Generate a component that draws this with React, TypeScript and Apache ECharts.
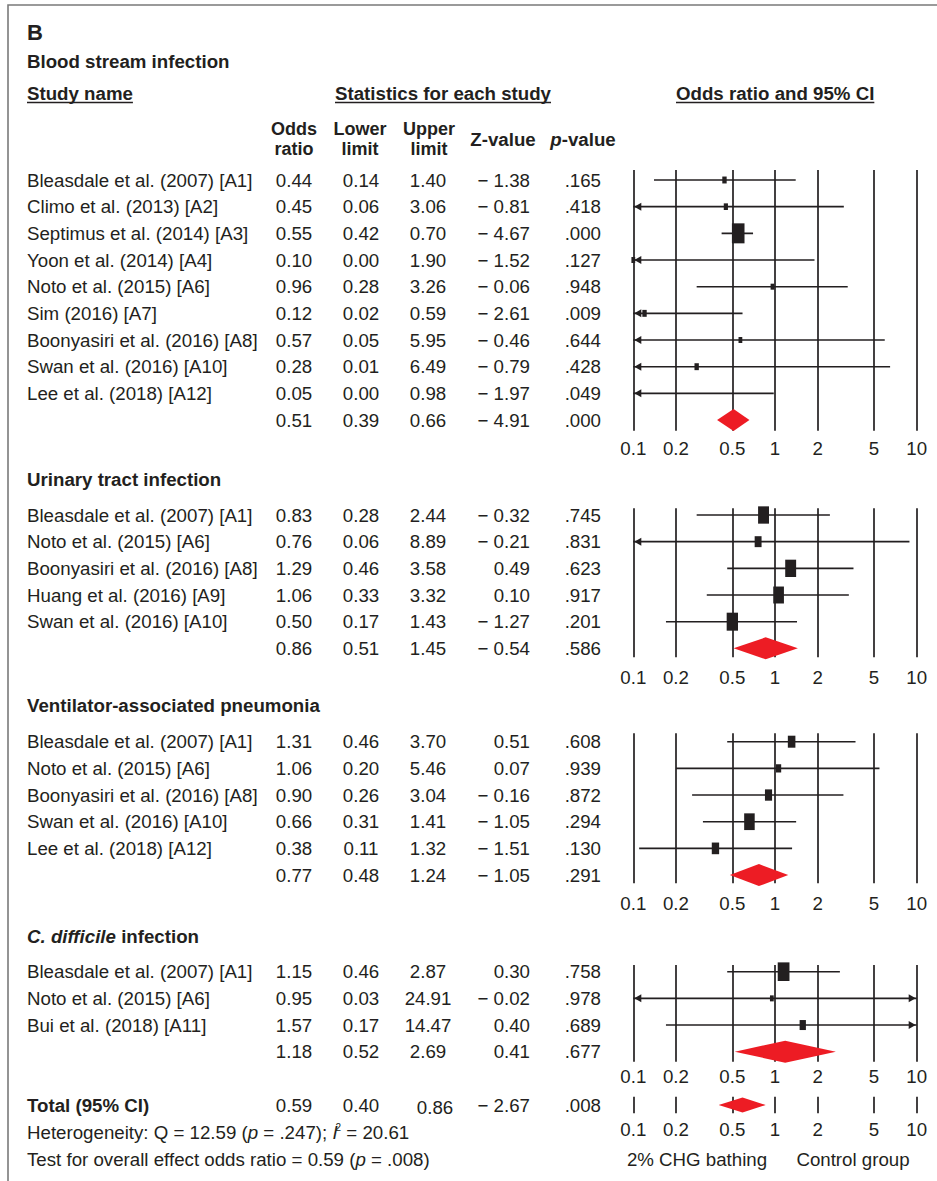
import React, { useEffect, useRef } from 'react';
import * as echarts from 'echarts';

// ---------- data ----------
const tickValues = [0.1, 0.2, 0.5, 1, 2, 5, 10];

const bsiStudies = [
  'Bleasdale et al. (2007) [A1]',
  'Climo et al. (2013) [A2]',
  'Septimus et al. (2014) [A3]',
  'Yoon et al. (2014) [A4]',
  'Noto et al. (2015) [A6]',
  'Sim (2016) [A7]',
  'Boonyasiri et al. (2016) [A8]',
  'Swan et al. (2016) [A10]',
  'Lee et al. (2018) [A12]',
];
const bsiOdds = [0.44, 0.45, 0.55, 0.1, 0.96, 0.12, 0.57, 0.28, 0.05];
const bsiLower = [0.14, 0.06, 0.42, 0.0, 0.28, 0.02, 0.05, 0.01, 0.0];
const bsiUpper = [1.4, 3.06, 0.7, 1.9, 3.26, 0.59, 5.95, 6.49, 0.98];
const bsiZ = [-1.38, -0.81, -4.67, -1.52, -0.06, -2.61, -0.46, -0.79, -1.97];
const bsiP = [0.165, 0.418, 0.0, 0.127, 0.948, 0.009, 0.644, 0.428, 0.049];
const bsiWeight = [12, 11, 100, 9, 9, 12, 9, 12, 9];
const bsiPooled = [0.51, 0.39, 0.66, -4.91, 0.0]; // OR, lower, upper, Z, p

const utiStudies = [
  'Bleasdale et al. (2007) [A1]',
  'Noto et al. (2015) [A6]',
  'Boonyasiri et al. (2016) [A8]',
  'Huang et al. (2016) [A9]',
  'Swan et al. (2016) [A10]',
];
const utiOdds = [0.83, 0.76, 1.29, 1.06, 0.5];
const utiLower = [0.28, 0.06, 0.46, 0.33, 0.17];
const utiUpper = [2.44, 8.89, 3.58, 3.32, 1.43];
const utiZ = [-0.32, -0.21, 0.49, 0.1, -1.27];
const utiP = [0.745, 0.831, 0.623, 0.917, 0.201];
const utiWeight = [75, 30, 75, 72, 81];
const utiPooled = [0.86, 0.51, 1.45, -0.54, 0.586];

const vapStudies = [
  'Bleasdale et al. (2007) [A1]',
  'Noto et al. (2015) [A6]',
  'Boonyasiri et al. (2016) [A8]',
  'Swan et al. (2016) [A10]',
  'Lee et al. (2018) [A12]',
];
const vapOdds = [1.31, 1.06, 0.9, 0.66, 0.38];
const vapLower = [0.46, 0.2, 0.26, 0.31, 0.11];
const vapUpper = [3.7, 5.46, 3.04, 1.41, 1.32];
const vapZ = [0.51, 0.07, -0.16, -1.05, -1.51];
const vapP = [0.608, 0.939, 0.872, 0.294, 0.13];
const vapWeight = [36, 17, 32, 70, 34];
const vapPooled = [0.77, 0.48, 1.24, -1.05, 0.291];

const cdiStudies = [
  'Bleasdale et al. (2007) [A1]',
  'Noto et al. (2015) [A6]',
  'Bui et al. (2018) [A11]',
];
const cdiOdds = [1.15, 0.95, 1.57];
const cdiLower = [0.46, 0.03, 0.17];
const cdiUpper = [2.87, 24.91, 14.47];
const cdiZ = [0.3, -0.02, 0.4];
const cdiP = [0.758, 0.978, 0.689];
const cdiWeight = [87, 8, 25];
const cdiPooled = [1.18, 0.52, 2.69, 0.41, 0.677];

const totalPooled = [0.59, 0.4, 0.86, -2.67, 0.008];
const heterogeneityQ = 12.59;
const heterogeneityP = 0.247;
const heterogeneityI2 = 20.61;

// ---------- styling / layout ----------
const FONT = '"Liberation Sans", Arial, Helvetica, sans-serif';
const INK = '#231f20';
const RED = '#ed1c24';
const FS = 18.7;
const ROW_STEP = 26.67;
const PLOT_LEFT = 633.3;
const PLOT_WIDTH = 283.4;

const COL_OR = 294;
const COL_LO = 361;
const COL_HI = 428;
const COL_Z = 530;
const COL_P = 601;

const sections = [
  {
    title: 'Blood stream infection',
    studies: bsiStudies, odds: bsiOdds, lower: bsiLower, upper: bsiUpper, z: bsiZ, p: bsiP,
    weight: bsiWeight, pooled: bsiPooled,
    titleY: 61, firstRowY: 180, lineTop: 170, lineBottom: 430.7, labelY: 448,
  },
  {
    title: 'Urinary tract infection',
    studies: utiStudies, odds: utiOdds, lower: utiLower, upper: utiUpper, z: utiZ, p: utiP,
    weight: utiWeight, pooled: utiPooled,
    titleY: 479, firstRowY: 515, lineTop: 508.3, lineBottom: 657.3, labelY: 677,
  },
  {
    title: 'Ventilator-associated pneumonia',
    studies: vapStudies, odds: vapOdds, lower: vapLower, upper: vapUpper, z: vapZ, p: vapP,
    weight: vapWeight, pooled: vapPooled,
    titleY: 705, firstRowY: 741.7, lineTop: 733.3, lineBottom: 883.3, labelY: 903,
  },
  {
    title: '{bi|C. difficile}{b| infection}',
    studies: cdiStudies, odds: cdiOdds, lower: cdiLower, upper: cdiUpper, z: cdiZ, p: cdiP,
    weight: cdiWeight, pooled: cdiPooled,
    titleY: 936, firstRowY: 971.7, lineTop: 965, lineBottom: 1061.7, labelY: 1076,
  },
];
const totalLayout = { rowY: 1105, lineTop: 1096.7, lineBottom: 1113.3, labelY: 1129 };

// ---------- helpers ----------
const fmt2 = (v: number) => v.toFixed(2);
const fmtZ = (v: number) => (v < 0 ? '\u2212 ' + Math.abs(v).toFixed(2) : v.toFixed(2));
const fmtP = (v: number) => v.toFixed(3).replace(/^0/, '');

const richSet = (size: number, weight: string) => ({
  i: { fontStyle: 'italic', fontWeight: weight, fontSize: size, fontFamily: FONT, fill: INK },
  n: { fontStyle: 'normal', fontWeight: weight, fontSize: size, fontFamily: FONT, fill: INK },
  bi: { fontStyle: 'italic', fontWeight: 'bold', fontSize: size, fontFamily: FONT, fill: INK },
  b: { fontStyle: 'normal', fontWeight: 'bold', fontSize: size, fontFamily: FONT, fill: INK },
  sup: {
    fontStyle: 'normal', fontWeight: weight, fontSize: 10, fontFamily: FONT, fill: INK,
    verticalAlign: 'top', padding: [0, 0, 0, -2],
  },
});

function txt(
  x: number,
  y: number,
  text: string,
  o: { size?: number; weight?: string; align?: string; rich?: boolean } = {}
) {
  const size = o.size ?? FS;
  const weight = o.weight ?? 'normal';
  const align = o.align ?? 'left';
  const style: any = {
    text,
    fill: INK,
    fontFamily: FONT,
    fontSize: size,
    fontWeight: weight,
    align,
    textAlign: align,
    verticalAlign: 'middle',
    textVerticalAlign: 'middle',
  };
  if (o.rich) style.rich = richSet(size, weight);
  return { type: 'text', x, y, silent: true, style };
}

function measure(text: string, font: string) {
  const ctx = document.createElement('canvas').getContext('2d');
  if (!ctx) return text.length * 9;
  ctx.font = font;
  return ctx.measureText(text).width;
}

function underlined(x: number, y: number, text: string) {
  const w = measure(text, `bold ${FS}px "Liberation Sans"`);
  return [
    txt(x, y, text, { weight: 'bold' }),
    {
      type: 'line',
      silent: true,
      shape: { x1: x, y1: y + 9.5, x2: x + w, y2: y + 9.5 },
      style: { stroke: INK, lineWidth: 1.4 },
    },
  ];
}

// two-line column header (e.g. "Odds" over "ratio")
function stackedHeader(x: number, top: string, bottom: string) {
  return [
    txt(x, 129, top, { weight: 'bold', align: 'center', size: 18 }),
    txt(x, 149.2, bottom, { weight: 'bold', align: 'center', size: 18 }),
  ];
}

function rowValueTexts(y: number, vals: number[], hiShift = 0, hiDy = 0) {
  return [
    txt(COL_OR, y, fmt2(vals[0]), { align: 'center' }),
    txt(COL_LO, y, fmt2(vals[1]), { align: 'center' }),
    txt(COL_HI + hiShift, y + hiDy, fmt2(vals[2]), { align: 'center' }),
    txt(COL_Z, y, fmtZ(vals[3]), { align: 'right' }),
    txt(COL_P, y, fmtP(vals[4]), { align: 'right' }),
  ];
}

// Forest-plot marks: CI whisker with clip arrows, weighted box, pooled diamond
function renderForestItem(params: any, api: any) {
  const row = api.value(0);
  const or = api.value(1);
  const lo = api.value(2);
  const hi = api.value(3);
  const w = api.value(4);
  const kind = api.value(5);
  const y = api.coord([1, row])[1];
  const xOf = (v: number) => api.coord([v, row])[0];

  if (kind > 0) {
    const hh = kind === 2 ? 7.5 : 11;
    return {
      type: 'polygon',
      shape: {
        points: [
          [xOf(lo), y],
          [xOf(or), y - hh],
          [xOf(hi), y],
          [xOf(or), y + hh],
        ],
      },
      style: { fill: RED },
    };
  }

  const children: any[] = [];
  const xl = xOf(Math.max(lo, 0.1));
  const xr = xOf(Math.min(hi, 10));
  children.push({
    type: 'line',
    shape: { x1: xl, y1: y, x2: xr, y2: y },
    style: { stroke: INK, lineWidth: 1.6 },
  });
  if (lo < 0.1) {
    children.push({
      type: 'polygon',
      shape: { points: [[xl + 1, y], [xl + 8, y - 4], [xl + 8, y + 4]] },
      style: { fill: INK },
    });
  }
  if (hi > 10) {
    children.push({
      type: 'polygon',
      shape: { points: [[xr - 1, y], [xr - 8, y - 4], [xr - 8, y + 4]] },
      style: { fill: INK },
    });
  }
  if (or >= 0.1 && or <= 10) {
    const bh = Math.max(6, 2 * Math.sqrt(w));
    const bw = Math.max(3.5, bh * 0.63);
    const cx = xOf(or);
    children.push({
      type: 'rect',
      shape: { x: cx - bw / 2, y: y - bh / 2, width: bw, height: bh },
      style: { fill: INK },
    });
  }
  return { type: 'group', children };
}

function buildOption() {
  const grids: any[] = [];
  const xAxes: any[] = [];
  const yAxes: any[] = [];
  const series: any[] = [];
  const graphics: any[] = [];

  const addPanel = (idx: number, nRows: number, firstRowY: number, lineTop: number, lineBottom: number, labelY: number, data: any[]) => {
    const lastRowY = firstRowY + (nRows - 1) * ROW_STEP;
    grids.push({ left: PLOT_LEFT, width: PLOT_WIDTH, top: lineTop, height: lineBottom - lineTop });
    xAxes.push({
      gridIndex: idx,
      type: 'log',
      logBase: 10,
      min: 0.1,
      max: 10,
      axisLine: { show: false },
      axisTick: { show: false, customValues: tickValues },
      splitLine: { show: true, lineStyle: { color: INK, width: 1.7 } },
      axisLabel: {
        customValues: tickValues,
        formatter: (v: number) => String(+Number(v).toPrecision(3)),
        fontSize: FS,
        fontFamily: FONT,
        color: INK,
        margin: labelY - lineBottom - 9,
      },
    });
    yAxes.push({
      gridIndex: idx,
      type: 'value',
      inverse: true,
      show: false,
      min: -(firstRowY - lineTop) / ROW_STEP,
      max: nRows - 1 + (lineBottom - lastRowY) / ROW_STEP,
    });
    series.push({
      type: 'custom',
      xAxisIndex: idx,
      yAxisIndex: idx,
      silent: true,
      encode: { x: 1, y: 0 },
      renderItem: renderForestItem,
      data,
    });
  };

  // header block
  graphics.push(txt(27, 32.5, 'B', { size: 22, weight: 'bold' }));
  graphics.push(...underlined(27, 93, 'Study name'));
  graphics.push(...underlined(335, 93, 'Statistics for each study'));
  graphics.push(...underlined(676, 93, 'Odds ratio and 95% CI'));
  graphics.push(...stackedHeader(COL_OR, 'Odds', 'ratio'));
  graphics.push(...stackedHeader(COL_LO - 1, 'Lower', 'limit'));
  graphics.push(...stackedHeader(COL_HI + 1, 'Upper', 'limit'));
  graphics.push(txt(503, 139, 'Z-value', { weight: 'bold', align: 'center' }));
  graphics.push(txt(583, 139, '{i|p}{b|-value}', { weight: 'bold', align: 'center', rich: true }));

  sections.forEach((s, idx) => {
    const n = s.studies.length + 1;
    const rowY = (r: number) => s.firstRowY + r * ROW_STEP;
    graphics.push(txt(27, s.titleY, s.title, { weight: 'bold', rich: s.title.startsWith('{') }));
    s.studies.forEach((name, r) => {
      graphics.push(txt(27, rowY(r), name));
      graphics.push(...rowValueTexts(rowY(r), [s.odds[r], s.lower[r], s.upper[r], s.z[r], s.p[r]]));
    });
    graphics.push(...rowValueTexts(rowY(n - 1), s.pooled));

    const data = s.studies.map((_, r) => [r, s.odds[r], s.lower[r], s.upper[r], s.weight[r], 0]);
    data.push([n - 1, s.pooled[0], s.pooled[1], s.pooled[2], 0, 1]);
    addPanel(idx, n, s.firstRowY, s.lineTop, s.lineBottom, s.labelY, data);
  });

  // overall total
  graphics.push(txt(27, totalLayout.rowY, 'Total (95% CI)', { weight: 'bold' }));
  graphics.push(...rowValueTexts(totalLayout.rowY, totalPooled, 7, 2));
  addPanel(sections.length, 1, totalLayout.rowY, totalLayout.lineTop, totalLayout.lineBottom, totalLayout.labelY, [
    [0, totalPooled[0], totalPooled[1], totalPooled[2], 0, 2],
  ]);

  graphics.push(
    txt(
      27,
      1132,
      `{n|Heterogeneity: Q = ${heterogeneityQ.toFixed(2)} (}{i|p}{n| = ${fmtP(heterogeneityP)}); }{i|I}{sup|2}{n| = ${heterogeneityI2.toFixed(2)}}`,
      { rich: true }
    )
  );
  graphics.push(
    txt(
      27,
      1159,
      `{n|Test for overall effect odds ratio = ${fmt2(totalPooled[0])} (}{i|p}{n| = ${fmtP(totalPooled[4])})}`,
      { rich: true }
    )
  );
  graphics.push(txt(697, 1159, '2% CHG bathing', { align: 'center' }));
  graphics.push(txt(853, 1159, 'Control group', { align: 'center' }));

  // panel frame
  graphics.push({
    type: 'polyline',
    silent: true,
    shape: { points: [[937, 5], [8, 5], [8, 1181]] },
    style: { stroke: '#7a7a7a', lineWidth: 1.6, fill: null },
  });

  return {
    animation: false,
    backgroundColor: '#ffffff',
    grid: grids,
    xAxis: xAxes,
    yAxis: yAxes,
    series,
    graphic: { elements: graphics },
  };
}

export default function App() {
  const ref = useRef<HTMLDivElement>(null);
  useEffect(() => {
    if (!ref.current) return;
    const chart = echarts.init(ref.current, null, { renderer: 'svg' });
    chart.setOption(buildOption() as any);
    return () => chart.dispose();
  }, []);
  return (
    <div
      ref={ref}
      style={{ position: 'absolute', left: 0, top: 0, width: 937, height: 1181, background: '#fff' }}
    />
  );
}
